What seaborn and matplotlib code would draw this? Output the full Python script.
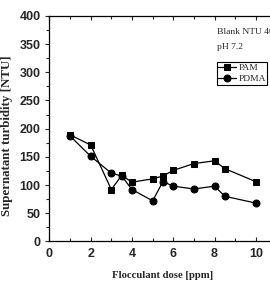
import seaborn as sns
import matplotlib.pyplot as plt
import pandas as pd
from matplotlib.ticker import MultipleLocator

# values
dose_pam = [1, 2, 3, 3.5, 4, 5, 5.5, 6, 7, 8, 8.5, 10]
turb_pam = [189, 171, 92, 117, 105, 111, 116, 126, 138, 143, 129, 106]
dose_pdma = [1, 2, 3, 3.5, 4, 5, 5.5, 6, 7, 8, 8.5, 10]
turb_pdma = [187, 151, 121, 116, 92, 72, 106, 98, 93, 98, 80, 68]

df = pd.concat([
    pd.DataFrame({"dose": dose_pam, "turb": turb_pam, "polymer": "PAM"}),
    pd.DataFrame({"dose": dose_pdma, "turb": turb_pdma, "polymer": "PDMA"}),
])

sns.set_style("ticks")
plt.rcParams["font.family"] = ["Liberation Sans", "DejaVu Sans"]
plt.rcParams["font.weight"] = "bold"

fig = plt.figure(figsize=(2.70, 2.84), dpi=100)
ax = fig.add_axes([0.183, 0.150, 0.841, 0.794])

sns.lineplot(data=df, x="dose", y="turb", hue="polymer", style="polymer",
             markers={"PAM": "s", "PDMA": "o"}, dashes=False,
             palette={"PAM": "black", "PDMA": "black"},
             markersize=5, linewidth=0.9, markeredgecolor="black",
             ax=ax, legend=True)

ax.set_xlim(0, 11)
ax.set_ylim(0, 400)
ax.xaxis.set_major_locator(MultipleLocator(2))
ax.xaxis.set_minor_locator(MultipleLocator(1))
ax.yaxis.set_major_locator(MultipleLocator(50))
ax.yaxis.set_minor_locator(MultipleLocator(25))
ax.tick_params(axis="x", which="both", direction="in", top=True, length=3, width=0.8,
               labelsize=9, pad=5)
ax.tick_params(axis="x", which="minor", length=2)
ax.tick_params(axis="y", which="both", direction="out", length=3, width=0.8,
               labelsize=9)
ax.tick_params(axis="y", which="minor", length=2)
ax.spines["right"].set_visible(False)
for s in ax.spines.values():
    s.set_linewidth(0.9)
    s.set_color("black")

ax.set_xlabel("Flocculant dose [ppm]", fontfamily="Liberation Serif",
              fontweight="bold", fontsize=7.7, labelpad=8)
ax.set_ylabel("Supernatant turbidity [NTU]", fontfamily="Liberation Serif",
              fontweight="bold", fontsize=9.3)
ax.yaxis.set_label_coords(-0.16, 0.467)

# annotation above the legend (cut off at the right edge, like the original)
ax.text(0.738, 0.929, "Blank NTU 400", transform=ax.transAxes, va="center",
        fontfamily="Liberation Serif", fontweight="normal", fontsize=6.8)
ax.text(0.738, 0.862, "pH 7.2", transform=ax.transAxes, va="center",
        fontfamily="Liberation Serif", fontweight="normal", fontsize=6.8)

leg = ax.legend(loc="upper left", bbox_to_anchor=(0.738, 0.795), frameon=True,
                fancybox=False, edgecolor="black", framealpha=1, handlelength=1.9,
                handletextpad=0.2, borderpad=0.15, labelspacing=0.25,
                borderaxespad=0,
                prop={"family": "Liberation Serif", "size": 6.8, "weight": "normal"})
leg.get_frame().set_linewidth(0.8)

fig.savefig("out.png", dpi=100)
